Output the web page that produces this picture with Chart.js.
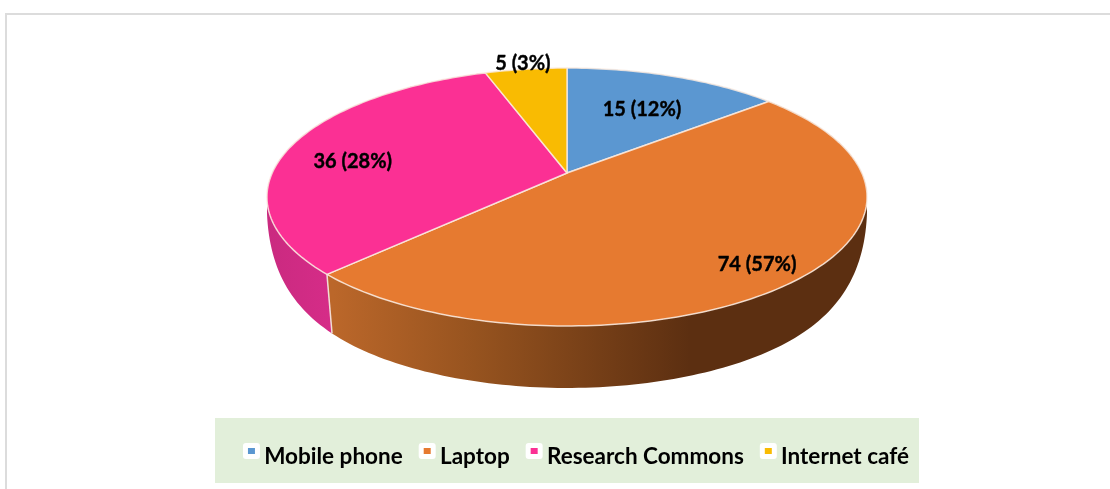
<!DOCTYPE html>
<html>
<head>
<meta charset="utf-8">
<style>
  html, body { margin: 0; padding: 0; background: #fff; }
  canvas { display: block; }
</style>
<script src="https://cdn.jsdelivr.net/npm/chart.js@4"></script>
</head>
<body>
<canvas id="chart" width="1110" height="489"></canvas>
<script>
const categories = ['Mobile phone', 'Laptop', 'Research Commons', 'Internet café'];
// printed on the slices
const counts = [15, 74, 36, 5];
const percents = [12, 57, 28, 3];
// size of each slice as actually drawn in the picture, in degrees (not the same as the printed %)
const sliceDegrees = [50, 175, 116, 19];
const colors = ['#5b97d1', '#e67a30', '#fb3094', '#f9bb02'];

// how the flat pie is laid on its side
const view = { cx: 567, cy: 173, a: 294.8, b: 124.5, k: 0.186, midY: 197, halfH: 129 };
// where each label sits along its slice: [radius, dx, dy]
const labelSpots = [[0.67, 0, 4], [0.84, 1, 4], [0.77, 0, 9], [1.0, -3, -6]];
const fontFamily = 'Lato, "Open Sans", sans-serif';

function project(angle, r) {
  const u = r * Math.cos(angle), v = r * Math.sin(angle);
  const s = 1 / (1 - view.k * v);
  return { x: view.cx + view.a * u * s, y: view.cy + view.b * v * s };
}

// same rim point on the lower edge of the disc
function lower(p) {
  const c = Math.max(0, (p.y - view.midY) / view.halfH);
  return {
    x: view.cx + (p.x - view.cx) * (1 - 0.035 * c),
    y: p.y + 16 + 46 * (1 - Math.pow(1 - c, 3))
  };
}

function rimPoints(start, end) {
  const pts = [];
  const steps = Math.max(2, Math.ceil((end - start) / 0.02));
  for (let i = 0; i <= steps; i++) {
    pts.push(project(start + (end - start) * i / steps, 1));
  }
  return pts;
}

function wallFill(ctx, index) {
  if (index === 1) {
    const g = ctx.createLinearGradient(333, 0, 690, 0);
    g.addColorStop(0, '#bb672a');
    g.addColorStop(0.4, '#96531f');
    g.addColorStop(1, '#5c2f11');
    return g;
  }
  if (index === 2) {
    const g = ctx.createLinearGradient(268, 0, 333, 0);
    g.addColorStop(0, '#ca2a80');
    g.addColorStop(1, '#d62c88');
    return g;
  }
  return colors[index];
}

const pieOnSide = {
  id: 'pieOnSide',
  beforeDraw(chart) {
    const ctx = chart.ctx;
    ctx.save();
    // outer frame, only top and left show
    ctx.strokeStyle = '#dcdcdc';
    ctx.lineWidth = 2;
    ctx.beginPath();
    ctx.moveTo(6, 489);
    ctx.lineTo(6, 14);
    ctx.lineTo(1110, 14);
    ctx.stroke();
    // legend panel
    ctx.fillStyle = '#e2efda';
    ctx.fillRect(215, 418, 704, 65);
    // legend swatches on their white chips
    chart.legend.legendHitBoxes.forEach((box, i) => {
      ctx.fillStyle = '#fff';
      ctx.beginPath();
      ctx.roundRect(box.left - 5, 443, 17, 16, 3);
      ctx.fill();
      ctx.fillStyle = colors[i];
      ctx.fillRect(box.left, 448, 7, 6);
    });
    ctx.restore();
  },
  beforeDatasetsDraw(chart) {
    const ctx = chart.ctx;
    const arcs = chart.getDatasetMeta(0).data;
    ctx.save();
    // side walls
    arcs.forEach((arc, i) => {
      const rim = rimPoints(arc.startAngle, arc.endAngle);
      ctx.beginPath();
      rim.forEach((p, n) => n ? ctx.lineTo(p.x, p.y) : ctx.moveTo(p.x, p.y));
      rim.slice().reverse().forEach(p => {
        const q = lower(p);
        ctx.lineTo(q.x, q.y);
      });
      ctx.closePath();
      ctx.fillStyle = wallFill(ctx, i);
      ctx.fill();
    });
    // seam between the pink and orange walls
    const seam = project(arcs[1].endAngle, 1);
    const seamEnd = lower(seam);
    ctx.strokeStyle = '#f1dcd6';
    ctx.lineWidth = 1.5;
    ctx.beginPath();
    ctx.moveTo(seam.x, seam.y);
    ctx.lineTo(seamEnd.x, seamEnd.y);
    ctx.stroke();
    // top surface
    arcs.forEach((arc, i) => {
      const rim = rimPoints(arc.startAngle, arc.endAngle);
      ctx.beginPath();
      ctx.moveTo(view.cx, view.cy);
      rim.forEach(p => ctx.lineTo(p.x, p.y));
      ctx.closePath();
      ctx.fillStyle = colors[i];
      ctx.fill();
      ctx.strokeStyle = 'rgba(250,235,225,0.85)';
      ctx.lineWidth = 1.5;
      ctx.lineJoin = 'round';
      ctx.stroke();
    });
    // value labels
    ctx.fillStyle = '#000';
    ctx.strokeStyle = '#000';
    ctx.lineWidth = 0.4;
    ctx.font = 'bold 20px ' + fontFamily;
    ctx.textAlign = 'center';
    ctx.textBaseline = 'middle';
    arcs.forEach((arc, i) => {
      const spot = labelSpots[i];
      const p = project((arc.startAngle + arc.endAngle) / 2, spot[0]);
      const text = counts[i] + ' (' + percents[i] + '%)';
      ctx.fillText(text, p.x + spot[1], p.y + spot[2]);
      ctx.strokeText(text, p.x + spot[1], p.y + spot[2]);
    });
    ctx.restore();
    return false;
  }
};

new Chart(document.getElementById('chart'), {
  type: 'pie',
  data: {
    labels: categories,
    datasets: [{ data: sliceDegrees, backgroundColor: colors, borderWidth: 0 }]
  },
  options: {
    responsive: false,
    animation: false,
    layout: { padding: { left: 47, right: 0, top: 20, bottom: 11 } },
    plugins: {
      tooltip: { enabled: false },
      legend: {
        position: 'bottom',
        labels: {
          boxWidth: 5,
          boxHeight: 6,
          padding: 21,
          color: '#000',
          font: { family: fontFamily, size: 22.5, weight: 'bold' },
          generateLabels: chart => chart.data.labels.map((text, i) => ({
            text: text,
            fillStyle: 'rgba(0,0,0,0)',
            strokeStyle: 'rgba(0,0,0,0)',
            lineWidth: 0,
            index: i
          }))
        }
      }
    }
  },
  plugins: [pieOnSide]
});
</script>
</body>
</html>
